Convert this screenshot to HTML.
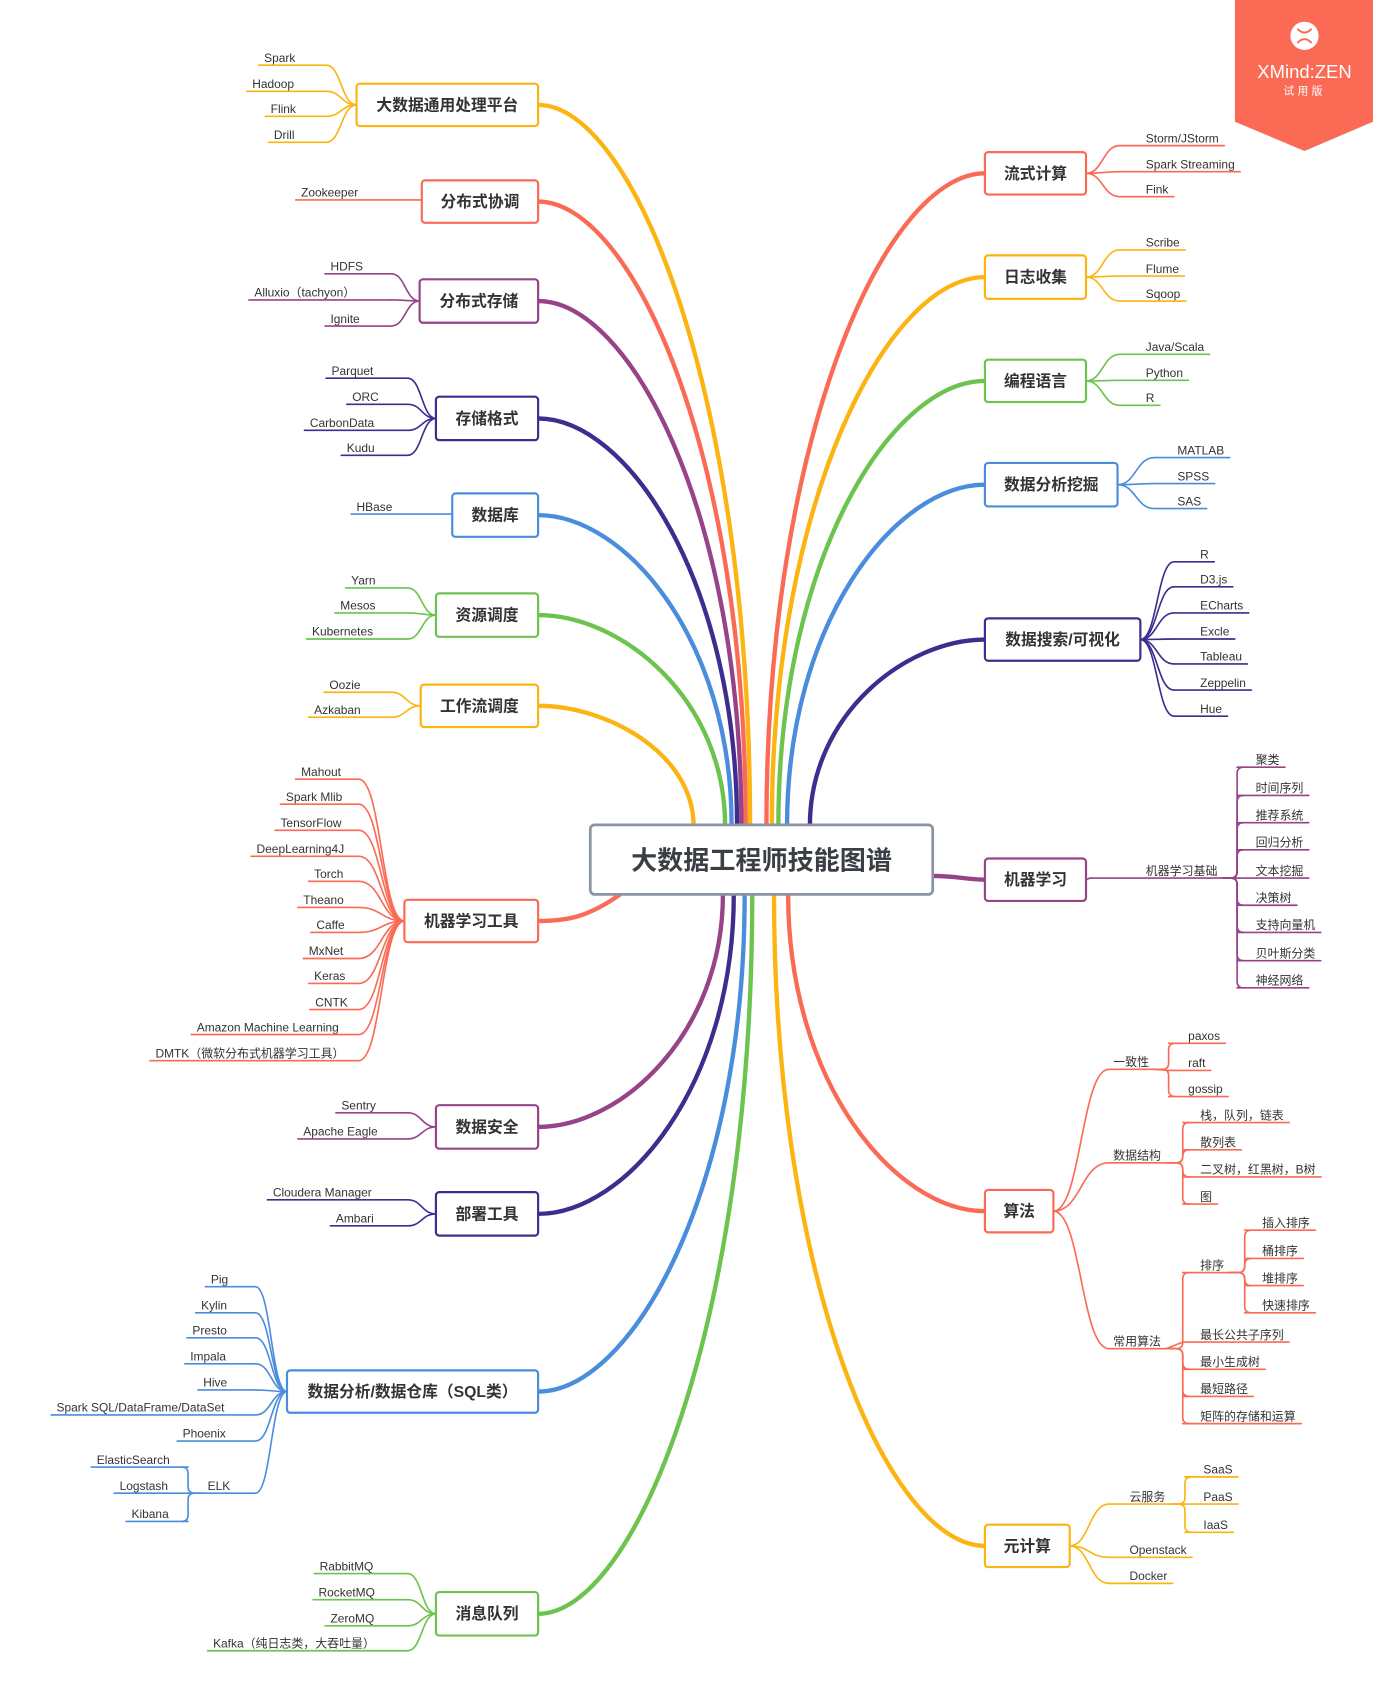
<!DOCTYPE html>
<html><head><meta charset="utf-8"><style>
html,body{margin:0;padding:0;background:#fff;}
svg{display:block;}
text{font-family:"Liberation Sans","Noto Sans CJK SC",sans-serif;}
</style></head><body>
<svg id="s" width="1373" height="1704" viewBox="0 0 1263 1568" preserveAspectRatio="none" xmlns="http://www.w3.org/2000/svg">
<g id="g"></g>
</svg>
<script>
var C={y:'#FBB411',r:'#FA6A55',p:'#964388',i:'#3E2D8E',b:'#4A8DDC',g:'#6CC34E'};
var NS='http://www.w3.org/2000/svg',G=document.getElementById('g');
function el(n,a,t){var e=document.createElementNS(NS,n);for(var k in a)e.setAttribute(k,a[k]);if(t!=null)e.textContent=t;G.appendChild(e);return e;}
function path(d,c,w){return el('path',{d:d,fill:'none',stroke:c,'stroke-width':w||1.5,'stroke-linecap':'round'});}
function tw(e){try{return e.getComputedTextLength();}catch(x){return e.textContent.length*6.5;}}
function conn(ax,ay,jx,uy,style,side){
 if(style==='bracket'){var r=6;if(Math.abs(uy-ay)<r+1)return 'M'+ax+','+ay+' L'+jx+','+uy;
  var s=uy>ay?1:-1,d=side>0?1:-1;
  return 'M'+ax+','+ay+' L'+(jx-d*r)+','+ay+' Q'+jx+','+ay+' '+jx+','+(ay+s*r)+' L'+jx+','+(uy-s*r)+' Q'+jx+','+uy+' '+(jx+d*r)+','+uy;}
 var m=ax+(jx-ax)*0.5;return 'M'+ax+','+ay+' C'+m+','+ay+' '+m+','+uy+' '+jx+','+uy;}
function kids(node,side,ax,ay,col){
 if(!node.k)return;
 node.k.forEach(function(k){
  var uy=k.y+7;
  var t=el('text',{x:k.x,y:k.y+4,'font-size':11,fill:'#333'},k.t);
  var w=tw(t);
  path(conn(ax,ay,node.jx,uy,node.st,side),col);
  var nax,end;
  if(side>0){end=k.x+w+5;path('M'+node.jx+','+uy+' L'+end+','+uy,col);nax=end;}
  else{end=k.x-5;path('M'+node.jx+','+uy+' L'+end+','+uy,col);nax=end;}
  kids(k,side,nax,uy,col);
 });
}
function L(a){return a.map(function(v){return {t:v[0],x:v[1],y:v[2]};});}
var nodes=[
 {t:'大数据通用处理平台',b:[328,77,495,116],c:'y',s:[690,760],jx:300,k:L([['Spark',243,53],['Hadoop',232,77],['Flink',249,100],['Drill',252,124]])},
 {t:'分布式协调',b:[388,166,495,205],c:'r',s:[686,760],jx:388,k:L([['Zookeeper',277,177]])},
 {t:'分布式存储',b:[386,257,495,297],c:'p',s:[682,760],jx:360,k:L([['HDFS',304,245],['Alluxio（tachyon）',234,269],['Ignite',304,293]])},
 {t:'存储格式',b:[401,365,495,405],c:'i',s:[678,760],jx:375,k:L([['Parquet',305,341],['ORC',324,365],['CarbonData',285,389],['Kudu',319,412]])},
 {t:'数据库',b:[416,454,495,494],c:'b',s:[673,760],jx:416,k:L([['HBase',328,466]])},
 {t:'资源调度',b:[401,546,495,586],c:'g',s:[667,760],jx:375,k:L([['Yarn',323,534],['Mesos',313,557],['Kubernetes',287,581]])},
 {t:'工作流调度',b:[387,630,495,669],c:'y',s:[638,760],jx:360,k:L([['Oozie',303,630],['Azkaban',289,653]])},
 {t:'机器学习工具',b:[372,828,495,867],c:'r',s:[572,822],jx:330,k:L([['Mahout',277,710],['Spark Mlib',263,733],['TensorFlow',258,757],['DeepLearning4J',236,781],['Torch',289,804],['Theano',279,828],['Caffe',291,851],['MxNet',284,875],['Keras',289,898],['CNTK',290,922],['Amazon Machine Learning',181,945],['DMTK（微软分布式机器学习工具）',143,969]])},
 {t:'数据安全',b:[401,1017,495,1057],c:'p',s:[665,823],jx:375,k:L([['Sentry',314,1017],['Apache Eagle',279,1041]])},
 {t:'部署工具',b:[401,1097,495,1137],c:'i',s:[675,823],jx:375,k:L([['Cloudera Manager',251,1097],['Ambari',309,1121]])},
 {t:'数据分析/数据仓库（SQL类）',b:[264,1261,495,1300],c:'b',s:[685,823],jx:235,k:L([['Pig',194,1177],['Kylin',185,1201],['Presto',177,1224],['Impala',175,1248],['Hive',187,1272],['Spark SQL/DataFrame/DataSet',52,1295],['Phoenix',168,1319]]).concat([{t:'ELK',x:191,y:1367,jx:173,st:'bracket',k:L([['ElasticSearch',89,1343],['Logstash',110,1367],['Kibana',121,1393]])}])},
 {t:'消息队列',b:[401,1465,495,1505],c:'g',s:[692,823],jx:375,k:L([['RabbitMQ',294,1441],['RocketMQ',293,1465],['ZeroMQ',304,1489],['Kafka（纯日志类，大吞吐量）',196,1512]])},
 {t:'流式计算',b:[906,140,999,179],c:'r',s:[705,760],jx:1030,R:1,k:L([['Storm/JStorm',1054,127],['Spark Streaming',1054,151],['Fink',1054,174]])},
 {t:'日志收集',b:[906,235,999,275],c:'y',s:[710,760],jx:1030,R:1,k:L([['Scribe',1054,223],['Flume',1054,247],['Sqoop',1054,270]])},
 {t:'编程语言',b:[906,331,999,370],c:'g',s:[716,760],jx:1030,R:1,k:L([['Java/Scala',1054,319],['Python',1054,343],['R',1054,366]])},
 {t:'数据分析挖掘',b:[906,426,1028,466],c:'b',s:[724,760],jx:1062,R:1,k:L([['MATLAB',1083,414],['SPSS',1083,438],['SAS',1083,461]])},
 {t:'数据搜索/可视化',b:[906,569,1049,608],c:'i',s:[745,760],jx:1080,R:1,k:L([['R',1104,510],['D3.js',1104,533],['ECharts',1104,557],['Excle',1104,581],['Tableau',1104,604],['Zeppelin',1104,628],['Hue',1104,652]])},
 {t:'机器学习',b:[906,790,999,829],c:'p',s:[858,806],jx:1003,R:1,k:[{t:'机器学习基础',x:1054,y:801,jx:1138,st:'bracket',k:L([['聚类',1155,699],['时间序列',1155,725],['推荐系统',1155,750],['回归分析',1155,775],['文本挖掘',1155,801],['决策树',1155,826],['支持向量机',1155,851],['贝叶斯分类',1155,877],['神经网络',1155,902]])}]},
 {t:'算法',b:[906,1095,969,1134],c:'r',s:[725,823],jx:1020,R:1,k:[
   {t:'一致性',x:1024,y:977,jx:1075,st:'bracket',k:L([['paxos',1093,953],['raft',1093,978],['gossip',1093,1002]])},
   {t:'数据结构',x:1024,y:1063,jx:1088,st:'bracket',k:L([['栈，队列，链表',1104,1026],['散列表',1104,1051],['二叉树，红黑树，B树',1104,1076],['图',1104,1101]])},
   {t:'常用算法',x:1024,y:1234,jx:1088,st:'bracket',k:[{t:'排序',x:1104,y:1164,jx:1145,st:'bracket',k:L([['插入排序',1161,1125],['桶排序',1161,1151],['堆排序',1161,1176],['快速排序',1161,1201]])}].concat(L([['最长公共子序列',1104,1228],['最小生成树',1104,1253],['最短路径',1104,1278],['矩阵的存储和运算',1104,1303]]))}]},
 {t:'元计算',b:[906,1403,984,1442],c:'y',s:[712,823],jx:1020,R:1,k:[
   {t:'云服务',x:1039,y:1377,jx:1090,st:'bracket',k:L([['SaaS',1107,1352],['PaaS',1107,1377],['IaaS',1107,1403]])}].concat(L([['Openstack',1039,1426],['Docker',1039,1450]]))}
];
nodes.forEach(function(n){
 var col=C[n.c],cy=(n.b[1]+n.b[3])/2,ex=n.R?n.b[0]:n.b[2],sx=n.s[0],sy=n.s[1],d;
 if(n.t==='机器学习'){d='M'+sx+','+sy+' C880,806 885,809 '+ex+','+cy;}
 else if(n.t==='机器学习工具'){d='M'+sx+','+sy+' C540,845 520,'+cy+' '+ex+','+cy;}
 else d='M'+sx+','+sy+' C'+sx+','+(sy+(cy-sy)*0.6)+' '+(ex+(sx-ex)*0.45)+','+cy+' '+ex+','+cy;
 var p=path(d,col,4);p.setAttribute('stroke-linecap','butt');
});
nodes.forEach(function(n){
 var col=C[n.c],cy=(n.b[1]+n.b[3])/2,side=n.R?1:-1,ax=n.R?n.b[2]:n.b[0];
 n.st=n.st||'curve';
 kids(n,side,ax,cy,col);
 el('rect',{x:n.b[0],y:n.b[1],width:n.b[2]-n.b[0],height:n.b[3]-n.b[1],rx:3,fill:'#fff',stroke:col,'stroke-width':2});
 el('text',{x:(n.b[0]+n.b[2])/2,y:cy+5,'font-size':14.5,'font-weight':'bold',fill:'#333','text-anchor':'middle'},n.t);
});
el('rect',{x:543,y:759,width:315,height:64,rx:4,fill:'#fff',stroke:'#8A94A2','stroke-width':2.5});
el('text',{x:700.5,y:800,'font-size':24,'font-weight':'bold',fill:'#3a3f46','text-anchor':'middle'},'大数据工程师技能图谱');
el('polygon',{points:'1136,0 1263,0 1263,112 1200,139 1136,112',fill:'#FA6A55'});
el('circle',{cx:1200,cy:33,r:13,fill:'#fff'});
path('M1194,27 Q1200,33 1206,27 M1194,39 Q1200,33 1206,39','#FA6A55',1.8);
el('text',{x:1200,y:72,'font-size':17,fill:'#fff','text-anchor':'middle'},'XMind:ZEN');
el('text',{x:1200,y:87,'font-size':10,fill:'#fff','text-anchor':'middle','letter-spacing':3},'试用版');
</script>
</body></html>
